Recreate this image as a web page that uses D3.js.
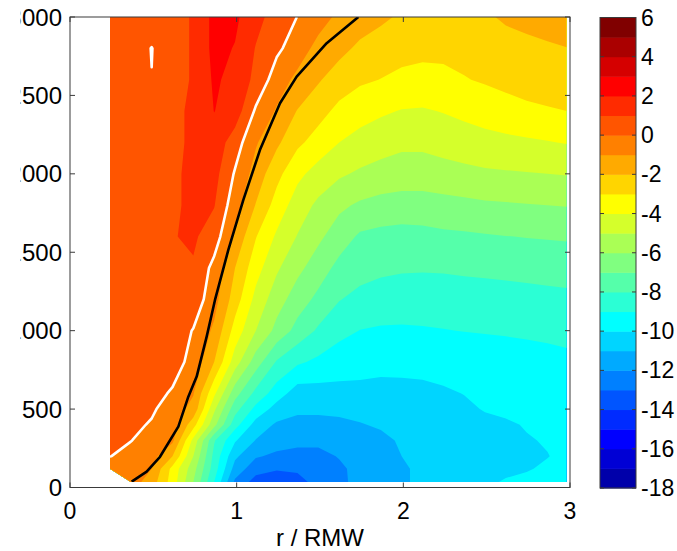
<!DOCTYPE html>
<html>
<head>
<meta charset="utf-8">
<script src="https://cdn.jsdelivr.net/npm/d3@7"></script>
<style>
  html, body { margin: 0; padding: 0; background: #fff; }
  svg { display: block; }
  text { font-family: "Liberation Sans", Arial, Helvetica, sans-serif; fill: #000; }
</style>
</head>
<body>
<svg id="chart" width="677" height="551"></svg>
<script>
// ---- grid coordinates ----
const radii = [0.24, 0.365, 0.49, 0.615, 0.74, 0.865, 0.99, 1.115, 1.24, 1.365, 1.49, 1.615,
               1.74, 1.865, 1.99, 2.115, 2.24, 2.365, 2.49, 2.615, 2.74, 2.865, 2.98];
const heights = [35, 120, 200, 300, 400, 500, 600, 800, 1000, 1200, 1400, 1600, 1800,
                 2000, 2200, 2400, 2600, 2800, 3000];

// ---- field values, one row per height (lowest first); null = no data ----
const z35   = [null, -0.5, -1.5, -3.45, -6.0, -9.0, -12.2, -13.4, -13.6, -13.3, -12.7, -12.15, -11.8, -11.45, -11.1, -10.85, -10.55, -10.3, -10.1, -9.95, -9.85, -9.75, -9.7];
const z120  = [-0.4, -0.6, -1.0, -3.3, -5.6, -8.5, -11.4, -12.6, -12.9, -12.85, -12.6, -12.15, -11.75, -11.4, -11.1, -10.85, -10.6, -10.4, -10.25, -10.12, -10.05, -9.9, -9.8];
const z200  = [0.02, -0.25, -0.6, -2.0, -5.0, -8.3, -10.8, -11.9, -12.2, -12.3, -12.25, -11.95, -11.6, -11.3, -11.0, -10.8, -10.6, -10.45, -10.3, -10.2, -10.1, -10.02, -9.85];
const z300  = [0.35, 0.02, -0.3, -0.8, -4.3, -7.9, -9.9, -11.05, -11.55, -11.75, -11.8, -11.7, -11.5, -11.2, -10.9, -10.7, -10.55, -10.4, -10.25, -10.15, -10.05, -9.95, -9.85];
const z400  = [0.2, 0.25, -0.1, -0.45, -2.6, -5.7, -8.6, -10.4, -11.15, -11.25, -11.25, -11.2, -11.05, -10.9, -10.75, -10.6, -10.45, -10.3, -10.2, -10.1, -9.95, -9.85, -9.78];
const z500  = [0.3, 0.3, 0.15, -0.5, -1.3, -4.8, -7.6, -9.3, -10.4, -10.85, -10.85, -10.8, -10.75, -10.75, -10.7, -10.6, -10.4, -10.15, -9.95, -9.85, -9.78, -9.72, -9.68];
const z600  = [0.35, 0.35, 0.3, -0.1, -0.95, -3.8, -6.6, -8.3, -9.5, -10.5, -10.4, -10.35, -10.3, -10.35, -10.3, -10.25, -10.12, -9.98, -9.85, -9.75, -9.68, -9.62, -9.58];
const z800  = [0.4, 0.45, 0.45, 0.4, -0.3, -2.0, -4.5, -6.5, -8.1, -8.85, -9.2, -9.45, -9.6, -9.68, -9.7, -9.68, -9.63, -9.58, -9.52, -9.45, -9.38, -9.3, -9.2];
const z1000 = [0.45, 0.5, 0.55, 0.55, -0.05, -1.2, -3.4, -5.0, -6.3, -7.35, -8.15, -8.75, -9.02, -9.1, -9.1, -9.07, -9.03, -8.98, -8.94, -8.9, -8.85, -8.8, -8.75];
const z1200 = [0.5, 0.55, 0.6, 0.65, 0.6, -0.6, -2.5, -4.3, -5.55, -6.5, -7.25, -7.95, -8.3, -8.5, -8.6, -8.6, -8.55, -8.5, -8.45, -8.42, -8.38, -8.3, -8.25];
const z1400 = [0.5, 0.6, 0.65, 0.7, 0.9, -0.3, -2.0, -3.6, -4.85, -5.75, -6.5, -7.3, -7.6, -7.78, -7.87, -7.9, -7.88, -7.82, -7.78, -7.72, -7.65, -7.6, -7.55];
const z1600 = [0.5, 0.6, 0.65, 0.95, 1.15, 0.5, -1.2, -2.95, -4.15, -5.05, -5.8, -6.5, -7.15, -7.3, -7.35, -7.3, -7.2, -7.15, -7.08, -7.02, -6.97, -6.93, -6.9];
const z1800 = [0.5, 0.6, 0.65, 0.85, 1.2, 1.05, -0.6, -2.05, -3.4, -4.5, -5.2, -5.8, -6.15, -6.35, -6.45, -6.45, -6.35, -6.25, -6.15, -6.1, -6.05, -6.0, -5.95];
const z2000 = [0.5, 0.6, 0.65, 0.85, 1.2, 1.35, -0.1, -1.4, -2.7, -3.75, -4.4, -4.85, -5.15, -5.35, -5.45, -5.45, -5.35, -5.25, -5.15, -5.1, -5.05, -5.0, -4.95];
const z2200 = [0.5, 0.6, 0.65, 0.8, 1.15, 1.6, 0.5, -0.9, -1.8, -2.8, -3.4, -4.0, -4.35, -4.6, -4.8, -4.8, -4.65, -4.5, -4.35, -4.25, -4.15, -4.05, -3.95];
const z2400 = [0.5, 0.6, 0.65, 0.8, 1.15, 2.02, 1.55, -0.15, -1.1, -2.05, -2.65, -3.25, -3.6, -3.85, -4.05, -4.1, -3.95, -3.75, -3.55, -3.35, -3.2, -3.1, -3.0];
const z2600 = [0.5, 0.6, 0.02, 0.8, 1.05, 2.15, 1.7, 0.75, -0.5, -1.25, -1.9, -2.5, -2.85, -3.02, -3.2, -3.25, -3.2, -3.05, -2.9, -2.75, -2.6, -2.45, -2.3];
const z2800 = [0.5, 0.6, -0.03, 0.8, 1.05, 2.3, 1.95, 0.95, 0.2, -0.5, -1.3, -1.7, -2.2, -2.5, -2.7, -2.8, -2.8, -2.7, -2.55, -2.4, -2.25, -2.12, -2.02];
const z3000 = [0.5, 0.6, 0.7, 0.8, 1.05, 2.3, 2.2, 1.3, 0.6, -0.02, -0.6, -1.2, -1.5, -1.8, -2.15, -2.4, -2.5, -2.45, -2.15, -1.85, -1.7, -1.6, -1.5];

const field = [z35, z120, z200, z300, z400, z500, z600, z800, z1000, z1200, z1400, z1600,
               z1800, z2000, z2200, z2400, z2600, z2800, z3000];

// reference curve drawn in black
const curveR = [0.37, 0.46, 0.54, 0.65, 0.71, 0.76, 0.82, 0.87, 0.95, 1.04, 1.14, 1.26, 1.36, 1.54, 1.73];
const curveZ = [37, 101, 196, 388, 579, 707, 962, 1196, 1515, 1834, 2153, 2450, 2620, 2833, 3000];

// contour levels, colour bar ticks, axis ticks
const levels = [-18, -17, -16, -15, -14, -13, -12, -11, -10, -9, -8, -7, -6, -5, -4, -3, -2, -1, 0, 1, 2, 3, 4, 5, 6];
const cbarTicks = [6, 4, 2, 0, -2, -4, -6, -8, -10, -12, -14, -16, -18];
const xTicks = [0, 1, 2, 3];
const yTicks = [0, 500, 1000, 1500, 2000, 2500, 3000];

// jet colours, one per band [level, level + 1)
const palette = ["#0000aa", "#0000d5", "#0000ff", "#002bff", "#0055ff", "#0080ff", "#00aaff", "#00d5ff",
                 "#00ffff", "#2bffd5", "#55ffaa", "#80ff80", "#aaff55", "#d5ff2b", "#ffff00", "#ffd500",
                 "#ffaa00", "#ff8000", "#ff5500", "#ff2b00", "#ff0000", "#d50000", "#aa0000", "#800000"];

// ---- scales ----
const svg = d3.select("#chart");
const x = d3.scaleLinear().domain([0, 3]).range([70, 570]);
const y = d3.scaleLinear().domain([0, 3000]).range([487.5, 17]);
const nx = radii.length, ny = heights.length;
const rAt = d3.scaleLinear().domain(d3.range(nx)).range(radii);
const zAt = d3.scaleLinear().domain(d3.range(ny)).range(heights);
const clamp = (v, lo, hi) => Math.max(lo, Math.min(hi, v));
const toPx = p => [x(rAt(clamp(p[0] - 0.5, 0, nx - 1))), y(zAt(clamp(p[1] - 0.5, 0, ny - 1)))];

// flat grid for the contour generator; missing cells borrow the value above (clipped away)
const values = [];
field.forEach((row, j) => row.forEach((v, i) => values.push(v == null ? field[j + 1][i] : v)));

// data domain (lower-left corner has no data)
const domainPts = [[radii[0], heights[1]], [radii[0], heights[ny - 1]], [radii[nx - 1], heights[ny - 1]],
                   [radii[nx - 1], heights[0]], [radii[1], heights[0]]];
const defs = svg.append("defs");
defs.append("clipPath").attr("id", "dataClip")
  .append("path")
  .attr("d", "M" + domainPts.map(p => [x(p[0]), y(p[1])].join(",")).join("L") + "Z");
defs.append("clipPath").attr("id", "labelClip")
  .append("rect").attr("x", 20.5).attr("y", 0).attr("width", 60).attr("height", 551);

const ringPath = ring => "M" + ring.map(p => toPx(p).map(v => v.toFixed(2)).join(",")).join("L") + "Z";
const multiPath = mp => mp.map(poly => poly.map(ringPath).join("")).join("");

// ---- filled contours ----
const bandLevels = levels.slice(0, -1);
const bands = d3.contours().size([nx, ny]).thresholds(bandLevels)(values);
const plot = svg.append("g").attr("clip-path", "url(#dataClip)");
plot.selectAll("path.band")
  .data(bands)
  .join("path")
  .attr("class", "band")
  .attr("d", d => multiPath(d.coordinates))
  .attr("fill", d => palette[levels.indexOf(d.value)])
  .attr("fill-rule", "evenodd");

// ---- zero contour as a white line ----
const zero = d3.contours().size([nx, ny]).thresholds([0])(values)[0];
const onEdge = p => p[0] <= 0 || p[0] >= nx || p[1] <= 0 || p[1] >= ny;
const zeroPaths = [];
zero.coordinates.forEach(poly => poly.forEach(ring => {
  const pts = ring.slice(0, -1);
  const start = pts.findIndex(onEdge);
  if (start < 0) { zeroPaths.push(ringPath(pts)); return; }
  const rot = pts.slice(start).concat(pts.slice(0, start));
  let run = [];
  const flush = () => {
    if (run.length > 1) zeroPaths.push("M" + run.map(p => toPx(p).map(v => v.toFixed(2)).join(",")).join("L"));
    run = [];
  };
  rot.forEach(p => { if (onEdge(p)) flush(); else run.push(p); });
  flush();
}));
plot.append("path")
  .attr("d", zeroPaths.join(""))
  .attr("fill", "none")
  .attr("stroke", "#ffffff")
  .attr("stroke-width", 2.6)
  .attr("stroke-linejoin", "round");

// ---- black curve ----
const curvePts = curveR.map((r, i) => [r, curveZ[i]]);
plot.append("path")
  .attr("d", d3.line().x(d => x(d[0])).y(d => y(d[1]))(curvePts))
  .attr("fill", "none")
  .attr("stroke", "#000")
  .attr("stroke-width", 2.6)
  .attr("stroke-linejoin", "round");

// ---- axes box and ticks ----
const axisColor = "#3a3a3a";
svg.append("rect")
  .attr("x", x(0)).attr("y", y(3000))
  .attr("width", x(3) - x(0)).attr("height", y(0) - y(3000))
  .attr("fill", "none").attr("stroke", axisColor).attr("stroke-width", 1);

const tickLen = 5;
const ticks = svg.append("g").attr("stroke", axisColor).attr("stroke-width", 1);
xTicks.forEach(t => {
  ticks.append("line").attr("x1", x(t)).attr("x2", x(t)).attr("y1", y(0)).attr("y2", y(0) - tickLen);
  ticks.append("line").attr("x1", x(t)).attr("x2", x(t)).attr("y1", y(3000)).attr("y2", y(3000) + tickLen);
});
yTicks.forEach(t => {
  ticks.append("line").attr("x1", x(0)).attr("x2", x(0) + tickLen).attr("y1", y(t)).attr("y2", y(t));
  ticks.append("line").attr("x1", x(3)).attr("x2", x(3) - tickLen).attr("y1", y(t)).attr("y2", y(t));
});

svg.append("g").selectAll("text")
  .data(xTicks).join("text")
  .attr("x", d => x(d)).attr("y", 518.5)
  .attr("text-anchor", "middle")
  .attr("font-size", 23)
  .text(d => d);

svg.append("g").attr("clip-path", "url(#labelClip)").selectAll("text")
  .data(yTicks).join("text")
  .attr("x", 62).attr("y", d => y(d))
  .attr("text-anchor", "end")
  .attr("dominant-baseline", "central")
  .attr("font-size", 24)
  .text(d => d);

svg.append("text")
  .attr("x", 320).attr("y", 546)
  .attr("text-anchor", "middle")
  .attr("font-size", 24)
  .text("r / RMW");

// ---- colour bar ----
const cbX0 = 600, cbX1 = 636;
const cbY = d3.scaleLinear().domain([-18, 6]).range([488, 17.5]);
const cbar = svg.append("g");
cbar.selectAll("rect.cb")
  .data(bandLevels).join("rect")
  .attr("class", "cb")
  .attr("x", cbX0).attr("width", cbX1 - cbX0)
  .attr("y", d => cbY(d + 1)).attr("height", d => cbY(d) - cbY(d + 1) + 0.5)
  .attr("fill", (d, i) => palette[i]);
cbar.append("rect")
  .attr("x", cbX0).attr("y", cbY(6)).attr("width", cbX1 - cbX0).attr("height", cbY(-18) - cbY(6))
  .attr("fill", "none").attr("stroke", axisColor).attr("stroke-width", 1);
cbarTicks.forEach(t => {
  cbar.append("line").attr("x1", cbX0).attr("x2", cbX0 + 4).attr("y1", cbY(t)).attr("y2", cbY(t))
    .attr("stroke", axisColor);
  cbar.append("line").attr("x1", cbX1).attr("x2", cbX1 - 4).attr("y1", cbY(t)).attr("y2", cbY(t))
    .attr("stroke", axisColor);
});
cbar.selectAll("text")
  .data(cbarTicks).join("text")
  .attr("x", 641).attr("y", d => cbY(d))
  .attr("dominant-baseline", "central")
  .attr("font-size", 23)
  .text(d => d);
</script>
</body>
</html>
